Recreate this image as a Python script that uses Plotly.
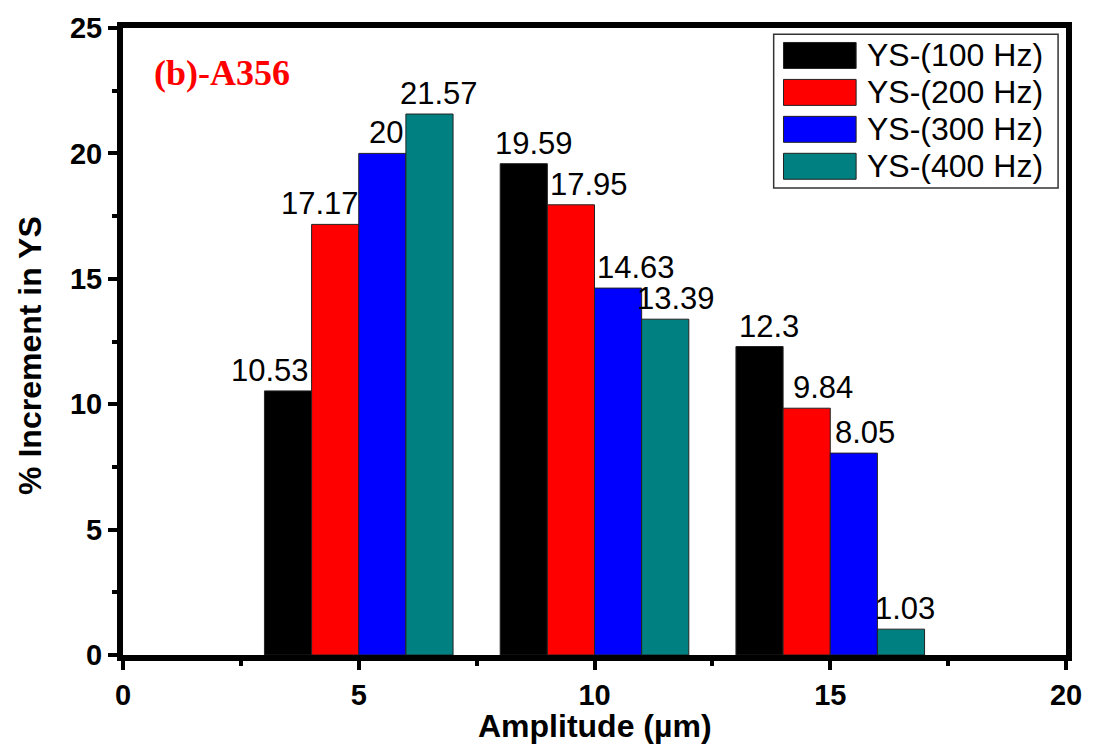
import plotly.graph_objects as go

# Amplitude groups (µm) and % increment in yield strength per frequency
amplitudes = [5, 10, 15]
series_names = ["YS-(100 Hz)", "YS-(200 Hz)", "YS-(300 Hz)", "YS-(400 Hz)"]
ys_100hz = [10.53, 19.59, 12.3]
ys_200hz = [17.17, 17.95, 9.84]
ys_300hz = [20, 14.63, 8.05]
ys_400hz = [21.57, 13.39, 1.03]
bar_colors = ["#000000", "#FF0000", "#0000FF", "#008080"]

series_values = [ys_100hz, ys_200hz, ys_300hz, ys_400hz]

# horizontal nudges (px) for the value labels
label_nudge = [[-18, 10, 9], [-15, 18, 16], [4, 18, 11], [10, 11, 4]]

SANS = "Liberation Sans, Arial, sans-serif"
SERIF = "Liberation Serif, Times New Roman, serif"

fig = go.Figure()
n = len(series_values)
for i, (name, vals, col) in enumerate(zip(series_names, series_values, bar_colors)):
    fig.add_trace(go.Bar(
        x=amplitudes, y=vals, name=name,
        marker=dict(color=col, line=dict(color="#222222", width=1)),
        showlegend=False,
    ))

# value labels above the bars
bar_w = 5 * (1 - 0.2) / n
annotations = []
for i, vals in enumerate(series_values):
    for j, (a, v) in enumerate(zip(amplitudes, vals)):
        annotations.append(dict(
            x=a + (i - (n - 1) / 2) * bar_w, y=v, xref="x", yref="y",
            text=f"{v:g}", showarrow=False, yanchor="bottom",
            xshift=label_nudge[i][j], yshift=1,
            font=dict(family=SANS, size=31, color="black"),
        ))

# panel tag
annotations.append(dict(
    x=0.031, y=0.928, xref="paper", yref="paper", text="<b>(b)-A356</b>",
    showarrow=False, xanchor="left", yanchor="middle",
    font=dict(family=SERIF, size=36, color="#FF0000"),
))

# axis titles
annotations.append(dict(
    x=0.5, y=-0.113, xref="paper", yref="paper", text="<b>Amplitude (µm)</b>",
    showarrow=False, xanchor="center", yanchor="middle",
    font=dict(family=SANS, size=32, color="black"),
))
annotations.append(dict(
    x=-0.098, y=0.478, xref="paper", yref="paper", text="<b>% Increment in YS</b>",
    showarrow=False, xanchor="center", yanchor="middle", textangle=-90,
    font=dict(family=SANS, size=32, color="black"),
))

# legend box with large swatches
shapes = [dict(type="rect", xref="paper", yref="paper",
               x0=0.690, x1=0.9916, y0=0.745, y1=0.990,
               line=dict(color="#333333", width=1.5), fillcolor="white")]
row_px = [54.5, 91.5, 128.5, 165.5]
for name, col, ypx in zip(series_names, bar_colors, row_px):
    yc = (655 - ypx) / 628
    shapes.append(dict(type="rect", xref="paper", yref="paper",
                       x0=(787 - 123) / 948, x1=(860 - 123) / 948,
                       y0=yc - 13 / 628, y1=yc + 13 / 628,
                       line=dict(color="#222222", width=1), fillcolor=col))
    annotations.append(dict(
        x=(869 - 123) / 948, y=yc, xref="paper", yref="paper", text=name,
        showarrow=False, xanchor="left", yanchor="middle",
        font=dict(family=SANS, size=32, color="black"),
    ))

axis_common = dict(
    showgrid=False, zeroline=False, showline=True, linecolor="black",
    linewidth=6, mirror=True, ticks="outside", ticklen=9, tickwidth=4,
    tickcolor="black",
    tickfont=dict(family=SANS, size=29, color="black", weight="bold"),
    minor=dict(ticks="outside", ticklen=5, tickwidth=4, tickcolor="black", dtick=2.5),
)

fig.update_layout(
    width=1094, height=747,
    margin=dict(l=123, r=23, t=27, b=92),
    paper_bgcolor="white", plot_bgcolor="white",
    barmode="group", bargap=0.2, bargroupgap=0,
    xaxis=dict(range=[0, 20], dtick=5, tick0=0, **axis_common),
    yaxis=dict(range=[0, 25], dtick=5, tick0=0, **axis_common),
    annotations=annotations,
    shapes=shapes,
)

fig.write_html("out.html")
